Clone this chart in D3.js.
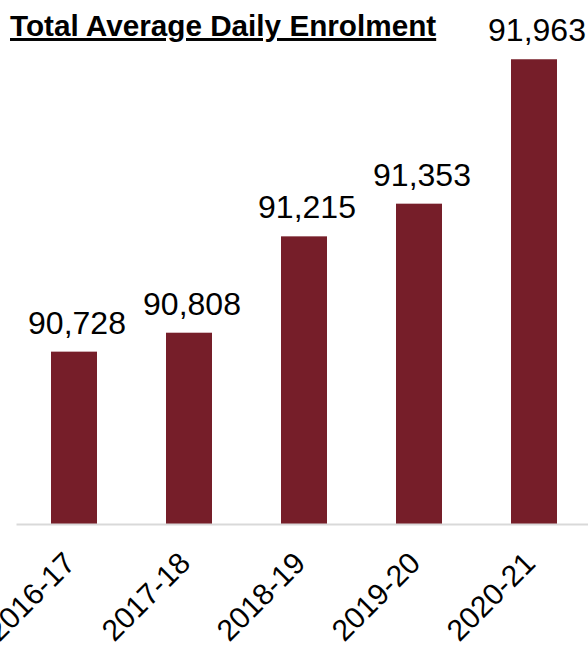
<!DOCTYPE html>
<html>
<head>
<meta charset="utf-8">
<script src="https://cdn.jsdelivr.net/npm/d3@7"></script>
<style>
  html, body { margin: 0; padding: 0; background: #fff; }
  svg { display: block; font-family: "Liberation Sans", Arial, sans-serif; }
</style>
</head>
<body>
<svg id="chart" width="588" height="650"></svg>
<script>
// Average daily enrolment by school year
const years = ["2016-17", "2017-18", "2018-19", "2019-20", "2020-21"];
const enrolment = [90728, 90808, 91215, 91353, 91963];
const yDomain = [90000, 92000];
const chartTitle = "Total Average Daily Enrolment";

const svg = d3.select("#chart");
const W = 588, H = 650;
const baseY = 524, topY = 50.5;

const x = d3.scaleBand()
  .domain(years)
  .range([16.5, 591.5])
  .paddingInner(0.6)
  .paddingOuter(0.3);

const y = d3.scaleLinear()
  .domain(yDomain)
  .range([baseY, topY]);

// Bars
svg.append("g")
  .selectAll("rect")
  .data(years.map((yr, i) => ({ yr, v: enrolment[i] })))
  .join("rect")
  .attr("x", d => x(d.yr))
  .attr("y", d => y(d.v))
  .attr("width", x.bandwidth())
  .attr("height", d => baseY - y(d.v))
  .attr("fill", "#761e29");

// Category axis (baseline + rotated labels)
const xAxis = svg.append("g")
  .attr("transform", `translate(0,${baseY})`)
  .call(d3.axisBottom(x).tickSize(0).tickPadding(0));
xAxis.select(".domain")
  .attr("d", `M${x.range()[0]},0.5H${W}`)
  .attr("stroke", "#d9d9d9")
  .attr("stroke-width", 2);
xAxis.selectAll(".tick text")
  .attr("font-size", 30)
  .attr("fill", "#000")
  .attr("text-anchor", "end")
  .attr("dy", null)
  .attr("y", 0)
  .attr("transform", "translate(3,41) rotate(-45)")
  .style("font-family", "'Liberation Sans', Arial, sans-serif");

// Value labels
svg.append("g")
  .selectAll("text")
  .data(years.map((yr, i) => ({ yr, v: enrolment[i] })))
  .join("text")
  .attr("x", d => x(d.yr) + x.bandwidth() / 2 + 3)
  .attr("y", d => y(d.v) - 18)
  .attr("text-anchor", "middle")
  .attr("font-size", 32)
  .attr("fill", "#000")
  .text(d => d3.format(",")(d.v));

// Title
svg.append("text")
  .attr("x", 10)
  .attr("y", 36)
  .attr("font-size", 29.7)
  .attr("font-weight", "bold")
  .attr("fill", "#000")
  .style("text-decoration", "underline")
  .text(chartTitle);
</script>
</body>
</html>
